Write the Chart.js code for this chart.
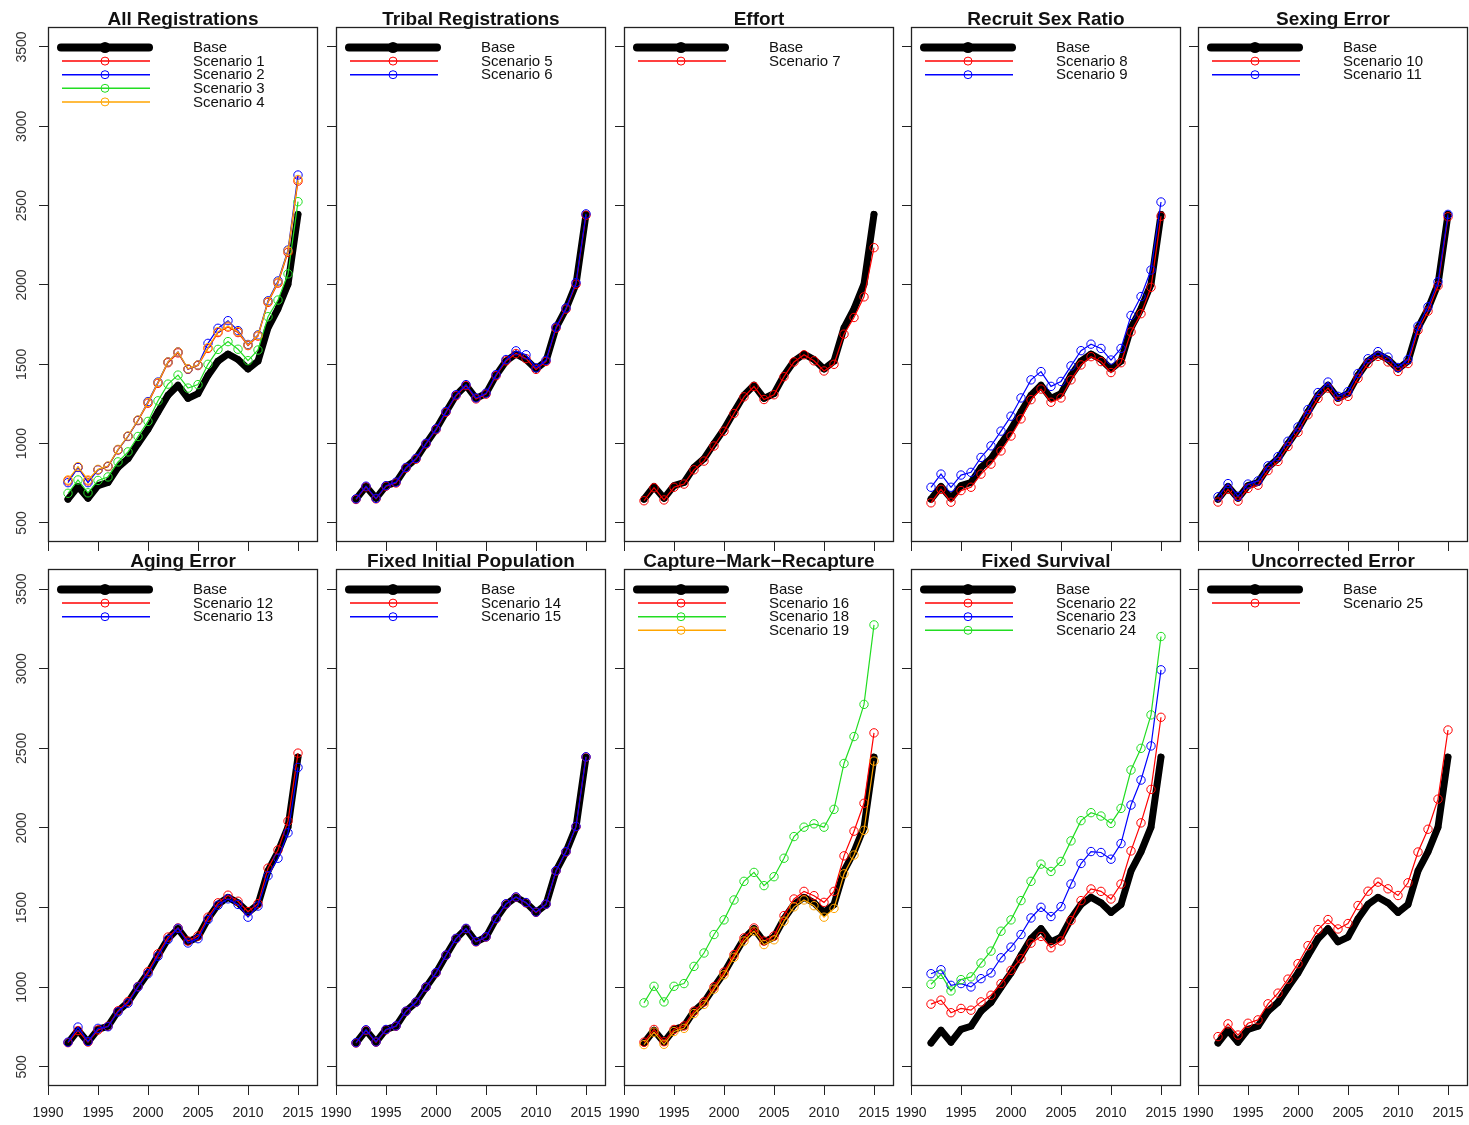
<!DOCTYPE html>
<html>
<head>
<meta charset="utf-8">
<script src="https://cdn.jsdelivr.net/npm/chart.js@4.4.1/dist/chart.umd.min.js"></script>
<style>
  html, body { margin: 0; padding: 0; background: #fff; }
  body { width: 1469px; height: 1125px; position: relative; overflow: hidden; }
  canvas { position: absolute; }
</style>
</head>
<body>
<script>
// years on the x axis, ticks
const years = [1992, 1993, 1994, 1995, 1996, 1997, 1998, 1999, 2000, 2001, 2002, 2003,
               2004, 2005, 2006, 2007, 2008, 2009, 2010, 2011, 2012, 2013, 2014, 2015];
const xTicks = [1990, 1995, 2000, 2005, 2010, 2015];
const yTicks = [500, 1000, 1500, 2000, 2500, 3000, 3500];

// base run (same in every panel)
const base = [650, 730, 655, 735, 755, 850, 905, 1000, 1090, 1200, 1305, 1368, 1285, 1315, 1430, 1520, 1565, 1530, 1470, 1520, 1730, 1850, 2005, 2445];

// All Registrations
const s1 = [765, 850, 765, 835, 855, 960, 1045, 1145, 1255, 1380, 1510, 1572, 1468, 1492, 1600, 1700, 1735, 1700, 1618, 1678, 1890, 2012, 2205, 2655];
const s2 = [754, 850, 754, 835, 857, 962, 1046, 1147, 1265, 1388, 1515, 1578, 1470, 1496, 1632, 1727, 1775, 1712, 1625, 1685, 1900, 2025, 2220, 2693];
const s3 = [687, 771, 690, 768, 790, 885, 948, 1045, 1140, 1270, 1375, 1432, 1350, 1372, 1500, 1594, 1643, 1595, 1523, 1590, 1800, 1905, 2070, 2525];
const s4 = [771, 855, 771, 838, 859, 964, 1048, 1149, 1260, 1385, 1515, 1578, 1472, 1496, 1605, 1706, 1740, 1706, 1622, 1682, 1895, 2018, 2215, 2665];
// Tribal Registrations
const s5 = [648, 728, 652, 732, 752, 846, 902, 998, 1088, 1198, 1302, 1366, 1282, 1312, 1428, 1522, 1568, 1536, 1468, 1518, 1728, 1848, 2005, 2440];
const s6 = [652, 732, 655, 735, 757, 850, 907, 1002, 1093, 1203, 1308, 1372, 1288, 1318, 1435, 1530, 1585, 1560, 1478, 1525, 1735, 1855, 2015, 2448];
// Effort
const s7 = [640, 722, 645, 725, 745, 835, 890, 985, 1078, 1190, 1295, 1360, 1278, 1308, 1422, 1515, 1560, 1522, 1458, 1500, 1690, 1795, 1925, 2235];
// Recruit Sex Ratio
const s8 = [627, 712, 631, 704, 725, 808, 871, 954, 1048, 1156, 1277, 1344, 1261, 1288, 1402, 1496, 1548, 1517, 1448, 1510, 1704, 1819, 1985, 2433];
const s9 = [725, 808, 725, 802, 819, 913, 986, 1079, 1173, 1288, 1402, 1454, 1361, 1392, 1490, 1586, 1627, 1600, 1527, 1600, 1808, 1927, 2094, 2523];
// Sexing Error
const s10 = [632, 712, 638, 718, 738, 830, 888, 982, 1072, 1182, 1285, 1350, 1268, 1298, 1412, 1505, 1550, 1515, 1455, 1505, 1715, 1835, 1995, 2430];
const s11 = [665, 748, 668, 745, 765, 860, 918, 1015, 1105, 1215, 1322, 1388, 1298, 1328, 1442, 1535, 1580, 1545, 1480, 1530, 1740, 1862, 2020, 2445];
// Aging Error
const s12 = [652, 728, 656, 732, 755, 852, 910, 1005, 1098, 1210, 1315, 1372, 1290, 1322, 1440, 1530, 1578, 1540, 1475, 1525, 1748, 1862, 2043, 2470];
const s13 = [655, 750, 660, 742, 752, 845, 900, 1002, 1085, 1195, 1300, 1370, 1278, 1305, 1425, 1515, 1555, 1520, 1440, 1510, 1700, 1810, 1970, 2380];
// Fixed Initial Population
const s14 = [650, 730, 655, 733, 755, 848, 905, 1000, 1090, 1200, 1305, 1368, 1285, 1315, 1430, 1522, 1565, 1530, 1470, 1520, 1730, 1850, 2008, 2445];
const s15 = [652, 733, 657, 735, 757, 850, 907, 1002, 1092, 1202, 1307, 1370, 1287, 1317, 1432, 1524, 1567, 1532, 1472, 1522, 1732, 1852, 2010, 2447];
// Capture-Mark-Recapture
const s16 = [655, 735, 658, 735, 757, 850, 908, 1003, 1095, 1205, 1310, 1372, 1290, 1322, 1450, 1554, 1602, 1575, 1533, 1602, 1825, 1980, 2155, 2597];
const s18 = [902, 1006, 908, 1006, 1023, 1131, 1215, 1331, 1423, 1548, 1665, 1721, 1638, 1694, 1810, 1946, 2005, 2026, 2005, 2117, 2405, 2574, 2776, 3275];
const s19 = [640, 718, 642, 722, 742, 835, 892, 988, 1078, 1188, 1290, 1352, 1268, 1298, 1415, 1505, 1548, 1512, 1440, 1495, 1712, 1830, 1985, 2420];
// Fixed Survival
const s22 = [894, 919, 840, 867, 856, 908, 950, 1023, 1106, 1179, 1277, 1319, 1248, 1290, 1419, 1544, 1617, 1602, 1554, 1648, 1856, 2032, 2242, 2695];
const s23 = [1085, 1110, 1012, 1023, 1002, 1054, 1090, 1185, 1252, 1331, 1435, 1502, 1444, 1506, 1648, 1777, 1852, 1846, 1804, 1902, 2144, 2301, 2515, 2993];
const s24 = [1019, 1081, 977, 1048, 1065, 1152, 1227, 1352, 1423, 1544, 1665, 1773, 1727, 1790, 1919, 2046, 2096, 2075, 2029, 2123, 2364, 2500, 2710, 3202];
// Uncorrected Error
const s25 = [690, 770, 700, 774, 795, 896, 963, 1051, 1148, 1261, 1362, 1425, 1366, 1400, 1513, 1603, 1660, 1618, 1576, 1656, 1849, 1992, 2181, 2615];

const titles = ['All Registrations', 'Tribal Registrations', 'Effort', 'Recruit Sex Ratio', 'Sexing Error',
                'Aging Error', 'Fixed Initial Population', 'Capture\u2212Mark\u2212Recapture', 'Fixed Survival', 'Uncorrected Error'];

const RED = '#FF0000', BLUE = '#0000FF', GREEN = '#22DD22', ORANGE = '#FFA500';

// scenarios shown in each panel: [label, values, colour]
const panels = [
    [['Scenario 1', s1, RED], ['Scenario 2', s2, BLUE], ['Scenario 3', s3, GREEN], ['Scenario 4', s4, ORANGE]],
    [['Scenario 5', s5, RED], ['Scenario 6', s6, BLUE]],
    [['Scenario 7', s7, RED]],
    [['Scenario 8', s8, RED], ['Scenario 9', s9, BLUE]],
    [['Scenario 10', s10, RED], ['Scenario 11', s11, BLUE]],
    [['Scenario 12', s12, RED], ['Scenario 13', s13, BLUE]],
    [['Scenario 14', s14, RED], ['Scenario 15', s15, BLUE]],
    [['Scenario 16', s16, RED], ['Scenario 18', s18, GREEN], ['Scenario 19', s19, ORANGE]],
    [['Scenario 22', s22, RED], ['Scenario 23', s23, BLUE], ['Scenario 24', s24, GREEN]],
    [['Scenario 25', s25, RED]]
];

// layout of the 2 x 5 grid (plot box positions)
const boxLefts = [48, 336, 624, 911, 1198];
const boxTops = [27, 569];
const boxHeights = [515, 517];
const BOX_W = 270;
const Y_AXIS_W = 48;
const TITLE_H = 21;
const X_AXIS_H = [12, 38];
const RIGHT_PAD = 12;
const FONT = '"Liberation Sans", Arial, Helvetica, sans-serif';

const toPoints = vals => years.map((yr, i) => ({ x: yr, y: vals[i] }));

// box around the plot region + R style legend in the top-left corner
const panelDecor = {
    id: 'panelDecor',
    afterDraw(chart, args, opts) {
        const { ctx, chartArea: ca } = chart;
        ctx.save();
        ctx.strokeStyle = '#222';
        ctx.lineWidth = 1.3;
        ctx.strokeRect(ca.left + 0.5, ca.top + 0.5, ca.right - ca.left - 1, ca.bottom - ca.top - 1);

        opts.items.forEach((it, i) => {
            const y = ca.top + 20.5 + i * 13.6;
            ctx.strokeStyle = it.color;
            ctx.lineCap = it.base ? 'round' : 'butt';
            ctx.lineWidth = it.base ? 8 : 1.5;
            ctx.beginPath();
            ctx.moveTo(ca.left + (it.base ? 13 : 14), y);
            ctx.lineTo(ca.left + (it.base ? 101 : 102), y);
            ctx.stroke();
            ctx.beginPath();
            ctx.arc(ca.left + 57, y, it.base ? 5.5 : 4, 0, Math.PI * 2);
            if (it.base) {
                ctx.fillStyle = it.color;
                ctx.fill();
            } else {
                ctx.lineWidth = 1;
                ctx.stroke();
            }
            ctx.fillStyle = '#111';
            ctx.font = '15px ' + FONT;
            ctx.textBaseline = 'middle';
            ctx.textAlign = 'left';
            ctx.fillText(it.label, ca.left + 145, y + 0.5);
        });
        ctx.restore();
    }
};

panels.forEach((scen, p) => {
    const row = Math.floor(p / 5);
    const col = p % 5;

    const canvas = document.createElement('canvas');
    const w = Y_AXIS_W + BOX_W + RIGHT_PAD;
    const h = TITLE_H + boxHeights[row] + X_AXIS_H[row];
    canvas.width = w;
    canvas.height = h;
    canvas.style.left = (boxLefts[col] - Y_AXIS_W) + 'px';
    canvas.style.top = (boxTops[row] - TITLE_H) + 'px';
    canvas.style.width = w + 'px';
    canvas.style.height = h + 'px';
    document.body.appendChild(canvas);

    const datasets = [{
        label: 'Base',
        data: toPoints(base),
        borderColor: '#000',
        backgroundColor: '#000',
        borderWidth: 7,
        borderCapStyle: 'round',
        borderJoinStyle: 'round',
        pointRadius: 3.3,
        pointBorderWidth: 0,
        pointBackgroundColor: '#000',
        order: 99
    }];
    scen.forEach(([label, vals, color], k) => {
        datasets.push({
            label: label,
            data: toPoints(vals),
            borderColor: color,
            borderWidth: 1.2,
            pointRadius: 4.2,
            pointBorderWidth: 1,
            pointBorderColor: color,
            pointBackgroundColor: 'rgba(0,0,0,0)',
            order: 50 - k
        });
    });

    const legendItems = [{ label: 'Base', color: '#000', base: true }]
        .concat(scen.map(([label, , color]) => ({ label, color, base: false })));

    new Chart(canvas, {
        type: 'line',
        data: { datasets },
        plugins: [panelDecor],
        options: {
            responsive: false,
            animation: false,
            devicePixelRatio: 1,
            layout: { padding: { top: 0, left: 0, bottom: 0, right: RIGHT_PAD } },
            elements: { line: { tension: 0 } },
            scales: {
                x: {
                    type: 'linear',
                    min: 1990,
                    max: 2017,
                    afterBuildTicks: s => { s.ticks = xTicks.map(v => ({ value: v })); },
                    afterFit: s => { s.height = X_AXIS_H[row]; },
                    border: { display: false },
                    grid: { drawOnChartArea: false, drawTicks: true, tickLength: 9, color: '#222', lineWidth: 1 },
                    ticks: {
                        display: row === 1,
                        autoSkip: false,
                        maxRotation: 0,
                        padding: 10,
                        color: '#222',
                        font: { family: FONT, size: 14 },
                        callback: v => String(v)
                    }
                },
                y: {
                    type: 'linear',
                    min: 380,
                    max: 3626,
                    afterBuildTicks: s => { s.ticks = yTicks.map(v => ({ value: v })); },
                    afterFit: s => { s.width = Y_AXIS_W; },
                    border: { display: false },
                    grid: { drawOnChartArea: false, drawTicks: true, tickLength: 9, color: '#222', lineWidth: 1 },
                    ticks: {
                        display: col === 0,
                        minRotation: 90,
                        maxRotation: 90,
                        crossAlign: 'center',
                        padding: 1,
                        color: '#333',
                        font: { family: FONT, size: 14 },
                        callback: v => String(v)
                    }
                }
            },
            plugins: {
                legend: { display: false },
                tooltip: { enabled: false },
                title: {
                    display: true,
                    text: titles[p],
                    fullSize: false,
                    align: 'center',
                    color: '#111',
                    font: { family: FONT, size: 19, weight: 'bold', lineHeight: '14px' },
                    padding: { top: 7, bottom: 0 }
                },
                panelDecor: { items: legendItems }
            }
        }
    });
});
</script>
</body>
</html>
